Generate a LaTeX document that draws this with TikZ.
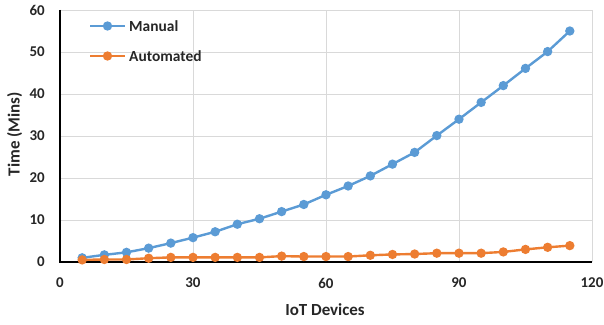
\documentclass[tikz,border=0pt]{standalone}
\usepackage{fontspec}
\setmainfont{Carlito}
\usetikzlibrary{positioning}
\definecolor{manualblue}{HTML}{5B9BD5}
\definecolor{autoorange}{HTML}{ED7D31}
\definecolor{gridgray}{HTML}{D9D9D9}
\definecolor{labelgray}{HTML}{262626}
\tikzset{
  gridline/.style={
    draw=gridgray, line width=0.9bp
  },
  axisline/.style={
    draw=black, line width=1.1bp
  },
  ticklabel/.style={
    font=\fontsize{15}{17}\selectfont\bfseries, text=labelgray, inner sep=0pt
  },
  axistitle/.style={
    font=\fontsize{17}{19}\selectfont\bfseries, text=labelgray, inner sep=0pt
  },
  legendtext/.style={
    font=\fontsize{15.5}{17}\selectfont\bfseries, text=labelgray,
    inner sep=0pt, anchor=west
  },
  seriesline/.style={
    line width=2.4bp, line join=round, line cap=round
  },
}
\newcommand{\markrad}{4.7bp}

\begin{document}
\begin{tikzpicture}[x=1bp, y=1bp]

  \useasboundingbox (0,0) rectangle (604,324);

  %%% Plot area (data units) %%%
  \begin{scope}[shift={(60,62)}, x=4.433bp, y=4.2bp]

    %%% Grid %%%
    \foreach \gy in {10,20,...,60}
      \draw[gridline] (0,\gy) -- (120,\gy);
    \foreach \gx in {30,60,90,120}
      \draw[gridline] (\gx,0) -- (\gx,60);

    %%% Axes %%%
    \draw[axisline] (0,60) -- (0,0) -- (120,0);

    %%% Tick labels %%%
    \foreach \gy in {0,10,...,60}
      \node[ticklabel, anchor=east] (ylab\gy) at ([xshift=-15bp]0,\gy) {\gy};
    \foreach \gx in {0,30,60,90,120}
      \node[ticklabel] (xlab\gx) at ([yshift=-21bp]\gx,0) {\gx};

    %%% Manual series %%%
    \draw[seriesline, manualblue] plot coordinates {
      (5,1.0) (10,1.7) (15,2.3) (20,3.3) (25,4.5) (30,5.8) (35,7.2)
      (40,9.0) (45,10.3) (50,12.0) (55,13.7) (60,16.0) (65,18.1)
      (70,20.5) (75,23.3) (80,26.1) (85,30.1) (90,34.0) (95,38.0)
      (100,42.0) (105,46.1) (110,50.1) (115,55.0)};
    \foreach \px/\py in {5/1.0,10/1.7,15/2.3,20/3.3,25/4.5,30/5.8,35/7.2,
        40/9.0,45/10.3,50/12.0,55/13.7,60/16.0,65/18.1,70/20.5,75/23.3,
        80/26.1,85/30.1,90/34.0,95/38.0,100/42.0,105/46.1,110/50.1,115/55.0}
      \fill[manualblue] (\px,\py) circle (\markrad);

    %%% Automated series %%%
    \draw[seriesline, autoorange] plot coordinates {
      (5,0.5) (10,0.6) (15,0.6) (20,0.9) (25,1.1) (30,1.1) (35,1.1)
      (40,1.1) (45,1.1) (50,1.4) (55,1.3) (60,1.3) (65,1.3) (70,1.6)
      (75,1.8) (80,1.9) (85,2.1) (90,2.1) (95,2.1) (100,2.4) (105,3.0)
      (110,3.5) (115,3.9)};
    \foreach \px/\py in {5/0.5,10/0.6,15/0.6,20/0.9,25/1.1,30/1.1,35/1.1,
        40/1.1,45/1.1,50/1.4,55/1.3,60/1.3,65/1.3,70/1.6,75/1.8,80/1.9,
        85/2.1,90/2.1,95/2.1,100/2.4,105/3.0,110/3.5,115/3.9}
      \fill[autoorange] (\px,\py) circle (\markrad);

  \end{scope}

  %%% Axis titles %%%
  \node[axistitle] (xtitle) at (325,14) {IoT Devices};
  \node[axistitle, rotate=90] (ytitle) at (14.5,190) {Time (Mins)};

  %%% Legend %%%
  \coordinate (leg1) at (90,298);
  \coordinate (leg2) at (90,268);
  \draw[seriesline, manualblue, line cap=butt] (leg1) -- ++(35,0);
  \fill[manualblue] ([xshift=17.5bp]leg1) circle (\markrad);
  \node[legendtext, right=4bp of leg1, xshift=35bp] (legman) {Manual};
  \draw[seriesline, autoorange, line cap=butt] (leg2) -- ++(35,0);
  \fill[autoorange] ([xshift=17.5bp]leg2) circle (\markrad);
  \node[legendtext, right=4bp of leg2, xshift=35bp] (legauto) {Automated};

\end{tikzpicture}
\end{document}
